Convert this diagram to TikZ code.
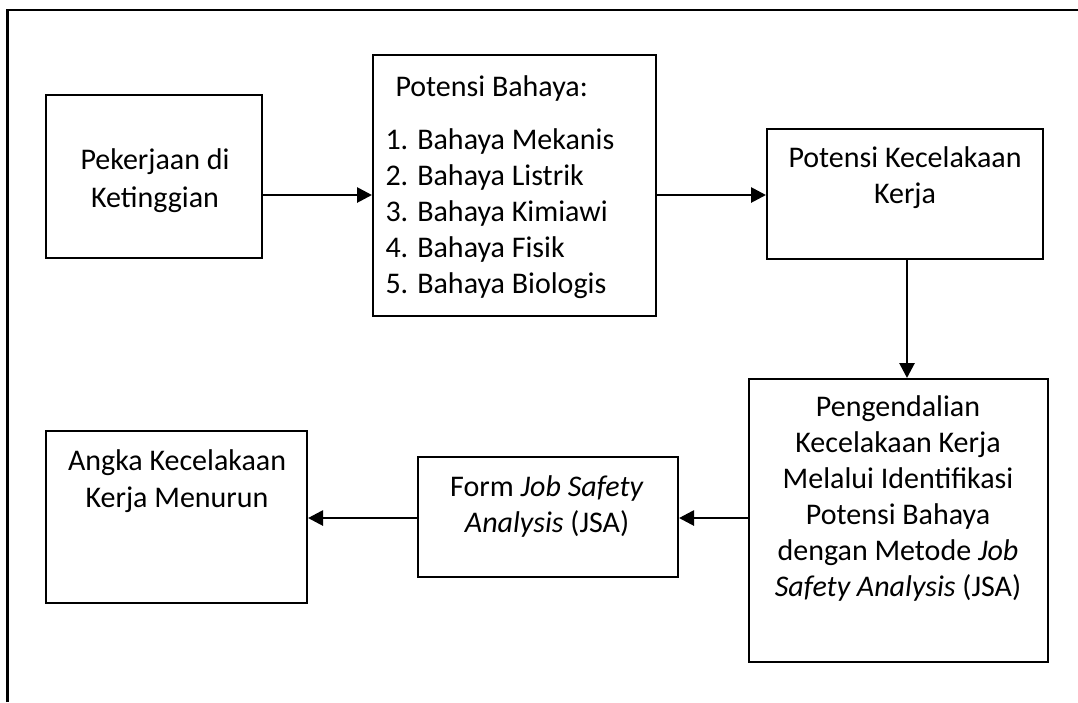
\documentclass[tikz,border=0pt]{standalone}
\usepackage{fontspec}
\setmainfont{Carlito}
\usetikzlibrary{arrows.meta}
\begin{document}
\begin{tikzpicture}[x=0.4pt,y=-0.4pt,
  box/.style={draw,line width=0.8pt,inner sep=0pt,minimum width=#1},
  txt/.style={font=\fontsize{12}{14.4}\selectfont,align=center,inner sep=0pt},
  arr/.style={line width=1.1pt,-{Triangle[length=6pt,width=6pt]}},
  frame/.style={line width=1pt}]
\useasboundingbox (0,0) rectangle (1078,702);
\draw[frame] (7.5,702) -- (7.5,10) -- (1078,10);
% boxes
\node[box=216*0.4pt,minimum height=163*0.4pt] (b1) at (154,176.5) {};
\node[box=283*0.4pt,minimum height=261*0.4pt] (b2) at (514.5,185.5) {};
\node[box=276*0.4pt,minimum height=130*0.4pt] (b3) at (905,194) {};
\node[box=299*0.4pt,minimum height=283*0.4pt] (b4) at (898.5,520.5) {};
\node[box=260*0.4pt,minimum height=120*0.4pt] (b5) at (548,517) {};
\node[box=261*0.4pt,minimum height=172*0.4pt] (b6) at (176.5,517) {};
% texts
\node[txt,font=\fontsize{12}{15.2}\selectfont] (t1) at (155,181) {Pekerjaan di\\Ketinggian};
\node[txt,anchor=west] (t2h) at (395,88) {Potensi Bahaya:};
\node[txt,align=left,anchor=west] (t2) at (385,213.5) {1. Bahaya Mekanis\\2. Bahaya Listrik\\3. Bahaya Kimiawi\\4. Bahaya Fisik\\5. Bahaya Biologis};
\node[txt] (t3) at (905,178) {Potensi Kecelakaan\\Kerja};
\node[txt] (t4) at (898,498) {Pengendalian\\Kecelakaan Kerja\\Melalui Identifikasi\\Potensi Bahaya\\dengan Metode \textit{Job}\\\textit{Safety Analysis} (JSA)};
\node[txt] (t5) at (547,506.5) {Form \textit{Job Safety}\\\textit{Analysis} (JSA)};
\node[txt,font=\fontsize{12}{15}\selectfont] (t6) at (177,481) {Angka Kecelakaan\\Kerja Menurun};
% connectors
\coordinate (ya) at (0,195);
\coordinate (yb) at (0,518);
\coordinate (xc) at (907,0);
\draw[arr] (b1.east |- ya) -- (b2.west |- ya);
\draw[arr] (b2.east |- ya) -- (b3.west |- ya);
\draw[arr] (b3.south -| xc) -- (b4.north -| xc);
\draw[arr] (b4.west |- yb) -- (b5.east |- yb);
\draw[arr] (b5.west |- yb) -- (b6.east |- yb);
\end{tikzpicture}
\end{document}
